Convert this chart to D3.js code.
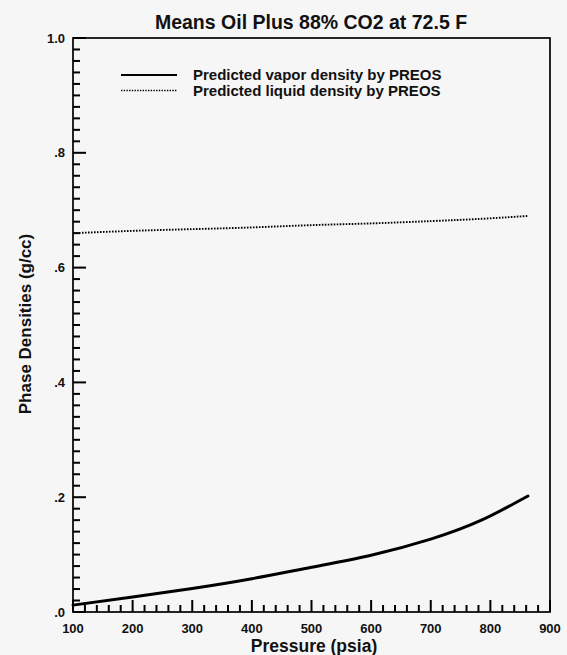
<!DOCTYPE html>
<html>
<head>
<meta charset="utf-8">
<script src="https://cdn.jsdelivr.net/npm/d3@7"></script>
<style>
  html, body { margin: 0; padding: 0; background: #f6f6f6; }
  svg { display: block; }
  text { font-family: "Liberation Sans", Arial, Helvetica, sans-serif; fill: #111; }
</style>
</head>
<body>
<script>
// Pressure (psia) sampled along the predicted curves
const pressure = [100, 200, 300, 400, 500, 600, 700, 785, 863];
// Predicted vapor phase density (g/cc), PREOS
const vaporDensity = [0.012, 0.026, 0.041, 0.058, 0.078, 0.099, 0.127, 0.160, 0.202];
// Predicted liquid phase density (g/cc), PREOS
const liquidDensity = [0.660, 0.664, 0.667, 0.670, 0.674, 0.677, 0.681, 0.685, 0.690];

const xTicks = [100, 200, 300, 400, 500, 600, 700, 800, 900];
const yTicks = [0, 0.2, 0.4, 0.6, 0.8, 1.0];
const yTickLabels = [".0", ".2", ".4", ".6", ".8", "1.0"];

const title = "Means Oil Plus 88% CO2 at 72.5 F";
const xTitle = "Pressure (psia)";
const yTitle = "Phase Densities (g/cc)";
const seriesNames = ["Predicted vapor density by PREOS", "Predicted liquid density by PREOS"];

const W = 567, H = 655;
const margin = { left: 73, right: 17, top: 38, bottom: 43 };
const ink = "#000";

const svg = d3.select("body").append("svg").attr("width", W).attr("height", H);

const x = d3.scaleLinear().domain([100, 900]).range([margin.left, W - margin.right]);
const y = d3.scaleLinear().domain([0, 1]).range([H - margin.bottom, margin.top]);

// frame
svg.append("rect")
  .attr("x", x(100)).attr("y", y(1))
  .attr("width", x(900) - x(100)).attr("height", y(0) - y(1))
  .attr("fill", "none").attr("stroke", ink).attr("stroke-width", 1.7);

// inward tick marks on the bottom and left edges
const xMinor = d3.range(120, 900, 20).filter(v => v % 100 !== 0);
const yMinor = d3.range(1, 50).map(i => i * 0.02).filter((v, i) => (i + 1) % 10 !== 0);

const tickG = svg.append("g").attr("stroke", ink).attr("stroke-width", 2);
xMinor.forEach(v => tickG.append("line")
  .attr("x1", x(v)).attr("x2", x(v)).attr("y1", y(0)).attr("y2", y(0) - 7));
xTicks.forEach(v => tickG.append("line")
  .attr("x1", x(v)).attr("x2", x(v)).attr("y1", y(0)).attr("y2", y(0) - 12));
yMinor.forEach(v => tickG.append("line")
  .attr("x1", x(100)).attr("x2", x(100) + 7).attr("y1", y(v)).attr("y2", y(v)));
yTicks.forEach(v => tickG.append("line")
  .attr("x1", x(100)).attr("x2", x(100) + 13).attr("y1", y(v)).attr("y2", y(v)));

// tick labels
svg.append("g").selectAll("text").data(xTicks).join("text")
  .attr("x", d => x(d)).attr("y", y(0) + 21)
  .attr("text-anchor", "middle").attr("font-size", 13).attr("font-weight", "bold")
  .text(d => d3.format("d")(d));

svg.append("g").selectAll("text").data(yTicks).join("text")
  .attr("x", x(100) - 8).attr("y", d => y(d) + 4.5)
  .attr("text-anchor", "end").attr("font-size", 13).attr("font-weight", "bold")
  .text((d, i) => yTickLabels[i]);

// curves
const smooth = d3.line().x(d => x(d[0])).y(d => y(d[1])).curve(d3.curveNatural);

svg.append("path")
  .datum(pressure.map((p, i) => [p, liquidDensity[i]]))
  .attr("d", smooth).attr("fill", "none").attr("stroke", ink)
  .attr("stroke-width", 1.9).attr("stroke-dasharray", "1.6,1.4");

svg.append("path")
  .datum(pressure.map((p, i) => [p, vaporDensity[i]]))
  .attr("d", smooth).attr("fill", "none").attr("stroke", ink)
  .attr("stroke-width", 3).attr("stroke-linecap", "round");

// legend
const leg = svg.append("g");
const legLineY = [75, 90.5];
leg.append("line").attr("x1", 121).attr("x2", 177).attr("y1", legLineY[0]).attr("y2", legLineY[0])
  .attr("stroke", ink).attr("stroke-width", 2.2);
leg.append("line").attr("x1", 121).attr("x2", 177).attr("y1", legLineY[1]).attr("y2", legLineY[1])
  .attr("stroke", ink).attr("stroke-width", 1.7).attr("stroke-dasharray", "1.4,1.3");
seriesNames.forEach((s, i) => {
  leg.append("text").attr("x", 193).attr("y", legLineY[i] + 5.2)
    .attr("font-size", 15).attr("font-weight", "bold").text(s);
});

// titles
svg.append("text").attr("x", 311).attr("y", 29).attr("text-anchor", "middle")
  .attr("font-size", 19.5).attr("font-weight", "bold").text(title);

svg.append("text").attr("x", 314).attr("y", 652).attr("text-anchor", "middle")
  .attr("font-size", 17.5).attr("font-weight", "bold").text(xTitle);

svg.append("text").attr("transform", "translate(31,324) rotate(-90)")
  .attr("text-anchor", "middle").attr("font-size", 17).attr("font-weight", "bold").text(yTitle);
</script>
</body>
</html>
